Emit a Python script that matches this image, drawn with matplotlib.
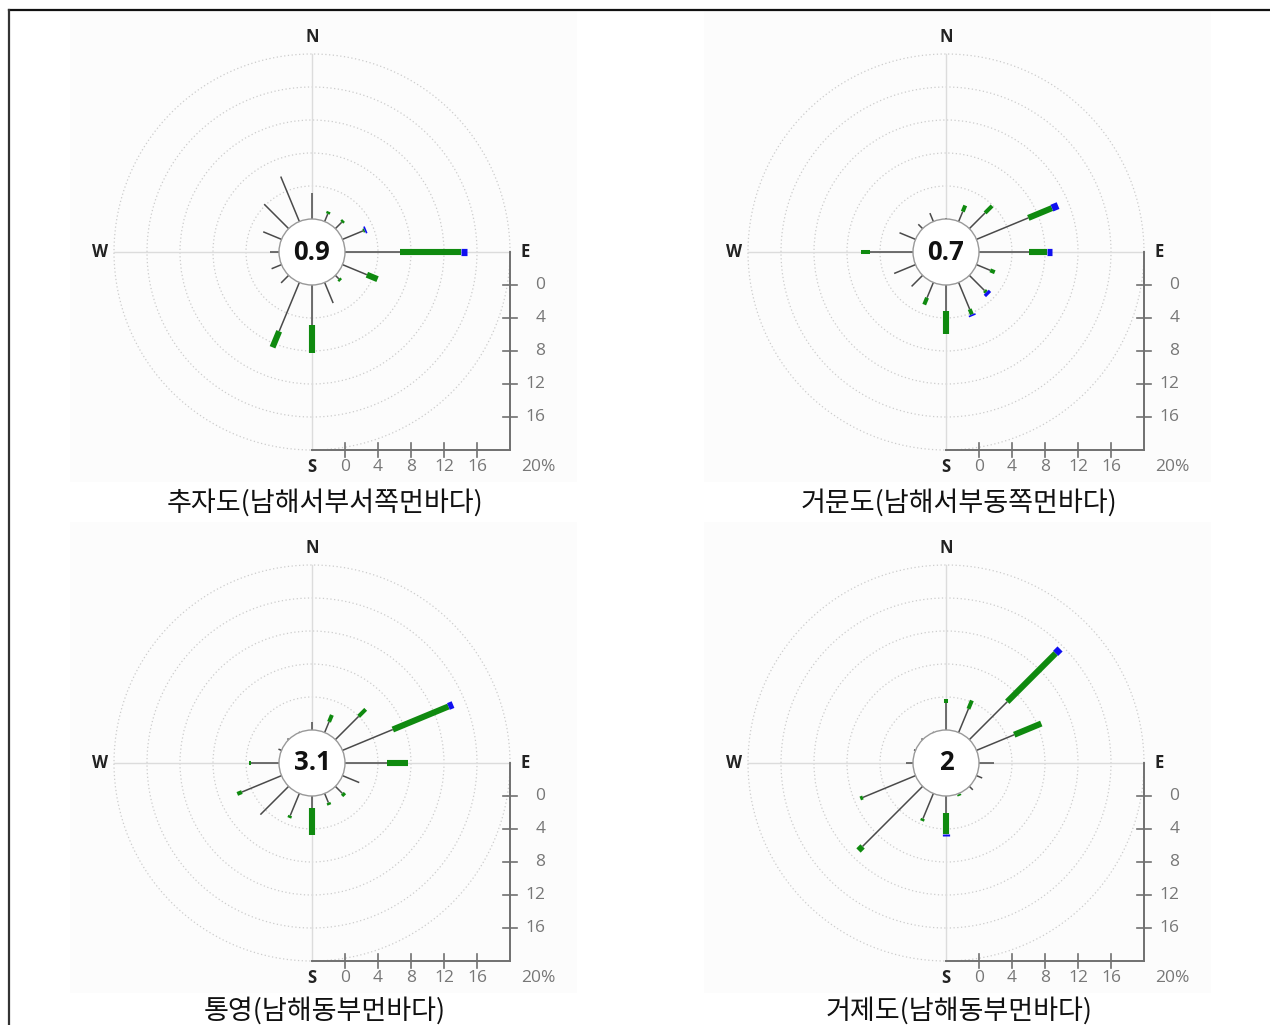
import numpy as np
import matplotlib
matplotlib.use('Agg')
import matplotlib.pyplot as plt
from matplotlib.patches import Circle, Rectangle
from matplotlib.lines import Line2D

# 16 bearings, clockwise from north
directions = ['N', 'NNE', 'NE', 'ENE', 'E', 'ESE', 'SE', 'SSE',
              'S', 'SSW', 'SW', 'WSW', 'W', 'WNW', 'NW', 'NNW']

stations = ['추자도(남해서부서쪽먼바다)', '거문도(남해서부동쪽먼바다)',
            '통영(남해동부먼바다)', '거제도(남해동부먼바다)']
calm = ['0.9', '0.7', '3.1', '2']

# frequency (%) per direction for each wind speed class
chujado_weak = [3.1, 1.0, 1.1, 2.7, 6.7, 3.2, 0.6, 2.7, 4.9, 6.4, 1.3, 1.3, 1.1, 2.4, 4.2, 5.9]
chujado_mod = [0, 0.3, 0.3, 0.2, 0, 0, 0.3, 0, 0, 0, 0, 0, 0, 0, 0, 0]
chujado_strong = [0, 0, 0, 0, 7.4, 1.4, 0, 0, 3.4, 2.1, 0, 0, 0, 0, 0, 0]
chujado_gale = [0, 0, 0, 0.2, 0.7, 0, 0, 0, 0, 0, 0, 0, 0, 0, 0, 0]

geomundo_weak = [0.1, 1.3, 2.7, 6.8, 6.0, 1.8, 2.6, 3.5, 3.2, 2.0, 1.9, 2.8, 5.2, 2.1, 0.75, 1.1]
geomundo_mod = [0, 0.8, 1.2, 0, 0, 0.6, 0.3, 0.7, 0, 0.9, 0, 0, 1.1, 0, 0, 0]
geomundo_strong = [0, 0, 0, 3.1, 2.2, 0, 0, 0, 2.7, 0, 0, 0, 0, 0, 0, 0]
geomundo_gale = [0, 0, 0, 0.8, 0.6, 0, 0.4, 0.2, 0, 0, 0, 0, 0, 0, 0, 0]

tongyeong_weak = [1.0, 1.4, 4.0, 6.6, 5.05, 2.2, 1.2, 1.2, 1.4, 2.9, 4.85, 5.2, 3.4, 0.4, 0.2, 0.1]
tongyeong_mod = [0, 0.9, 1.2, 0, 0, 0, 0.4, 0.3, 0, 0.3, 0, 0.6, 0.2, 0, 0, 0]
tongyeong_strong = [0, 0, 0, 7.3, 2.6, 0, 0, 0, 3.3, 0, 0, 0, 0, 0, 0, 0]
tongyeong_gale = [0, 0, 0, 0.6, 0, 0, 0, 0, 0, 0, 0, 0, 0, 0, 0, 0]

geojedo_weak = [3.3, 3.1, 6.5, 4.95, 1.85, 0.75, 0.6, 0.1, 2.0, 3.3, 10.3, 6.9, 0.85, 0.2, 0.2, 0.1]
geojedo_mod = [0.45, 1.1, 0, 0, 0, 0, 0, 0.2, 0, 0.3, 0, 0.35, 0, 0, 0, 0]
geojedo_strong = [0, 0, 8.3, 3.55, 0, 0, 0, 0, 2.6, 0, 0.7, 0, 0, 0, 0, 0]
geojedo_gale = [0, 0, 0.75, 0, 0, 0, 0, 0, 0.25, 0, 0, 0, 0, 0, 0, 0]

station_data = [
    [chujado_weak, chujado_mod, chujado_strong, chujado_gale],
    [geomundo_weak, geomundo_mod, geomundo_strong, geomundo_gale],
    [tongyeong_weak, tongyeong_mod, tongyeong_strong, tongyeong_gale],
    [geojedo_weak, geojedo_mod, geojedo_strong, geojedo_gale],
]

ring_ticks = [0, 4, 8, 12, 16]

# line style of each speed class: (colour, width)
class_styles = [('#4a4a4a', 1.1), ('#0f8a0f', 2.9), ('#0f8a0f', 4.4), ('#1010f0', 5.2)]

CALM_R = 4.0          # inner circle radius, in % units
OUTER = 24.0          # radius of the 20 % ring
W_PX, H_PX = 1270, 1025
SCALE = 8.25          # pixels per % unit
XLIM = (-29.3, 32.1)
YLIM = (-27.9, 29.2)
centers = [(312, 252), (946, 252), (312, 763), (946, 763)]
caption_y = [-30.4, -30.4, -30.0, -30.0]

plt.rcParams['font.family'] = ['Open Sans', 'DejaVu Sans']

fig = plt.figure(figsize=(W_PX / 100, H_PX / 100), dpi=100)
fig.patch.set_facecolor('white')


def draw_rose(ax, classes, calm_text, name, cap_y):
    ax.set_xlim(*XLIM)
    ax.set_ylim(*YLIM)
    ax.axis('off')
    ax.add_patch(Rectangle((XLIM[0], YLIM[0]), XLIM[1] - XLIM[0], YLIM[1] - YLIM[0],
                           facecolor='#fcfcfc', edgecolor='none', zorder=0))

    # dotted rings and the cross
    for v in ring_ticks:
        ax.add_patch(Circle((0, 0), v + CALM_R + 4, fill=False, ec='#cccccc',
                            lw=0.9, ls=(0, (1, 2)), zorder=1))
    ax.plot([-OUTER, OUTER], [0, 0], color='#dcdcdc', lw=1, zorder=1)
    ax.plot([0, 0], [-OUTER, OUTER], color='#dcdcdc', lw=1, zorder=1)

    # scale axes on the lower right quadrant
    ax.plot([OUTER, OUTER], [0, -OUTER], color='#707070', lw=1.4, zorder=2)
    ax.plot([0, OUTER], [-OUTER, -OUTER], color='#707070', lw=1.4, zorder=2)
    for v in ring_ticks:
        p = v + CALM_R
        ax.plot([OUTER - 0.8, OUTER + 0.8], [-p, -p], color='#707070', lw=1.2, zorder=2)
        ax.text(28.3, -p, str(v), ha='right', va='center', fontsize=12.5, color='#777777')
        ax.plot([p, p], [-OUTER - 0.8, -OUTER + 0.8], color='#707070', lw=1.2, zorder=2)
        ax.text(p, -26.1, str(v), ha='center', va='center', fontsize=12.5, color='#777777')
    ax.text(27.4, -26.1, '20%', ha='center', va='center', fontsize=12.5, color='#777777')

    for lab, x, y in [('N', 0, 26.1), ('S', 0, -26.1), ('W', -25.7, 0), ('E', 25.8, 0)]:
        ax.text(x, y, lab, ha='center', va='center', fontsize=12,
                fontweight='bold', color='#222222')

    # stacked speed classes along each bearing
    angles = np.deg2rad(np.arange(16) * 22.5)
    for i, theta in enumerate(angles):
        r0 = CALM_R
        for values, (col, lw) in zip(classes, class_styles):
            v = values[i]
            if v <= 0:
                continue
            r1 = r0 + v
            ax.plot([r0 * np.sin(theta), r1 * np.sin(theta)],
                    [r0 * np.cos(theta), r1 * np.cos(theta)],
                    color=col, lw=lw, solid_capstyle='butt', zorder=4)
            r0 = r1

    ax.add_patch(Circle((0, 0), CALM_R, fc='white', ec='#999999', lw=1, zorder=5))
    ax.text(0, 0, calm_text, ha='center', va='center', fontsize=18.5,
            fontweight='bold', color='#111111', zorder=6)

    ax.text(1.6, cap_y, name, ha='center', va='center', fontsize=19.5,
            family=['Noto Sans CJK KR', 'DejaVu Sans'], color='#111111', clip_on=False)


for k, (cx, cy) in enumerate(centers):
    left = cx + XLIM[0] * SCALE
    top = cy - YLIM[1] * SCALE
    w = (XLIM[1] - XLIM[0]) * SCALE
    h = (YLIM[1] - YLIM[0]) * SCALE
    ax = fig.add_axes([left / W_PX, 1 - (top + h) / H_PX, w / W_PX, h / H_PX])
    draw_rose(ax, station_data[k], calm[k], stations[k], caption_y[k])

# frame lines along the top and left edges
fig.add_artist(Line2D([9 / W_PX, 1], [1 - 10 / H_PX, 1 - 10 / H_PX],
                      color='#111111', lw=1.6, transform=fig.transFigure))
fig.add_artist(Line2D([9 / W_PX, 9 / W_PX], [0, 1 - 10 / H_PX],
                      color='#333333', lw=1.6, transform=fig.transFigure))

fig.savefig('out.png', dpi=100)
